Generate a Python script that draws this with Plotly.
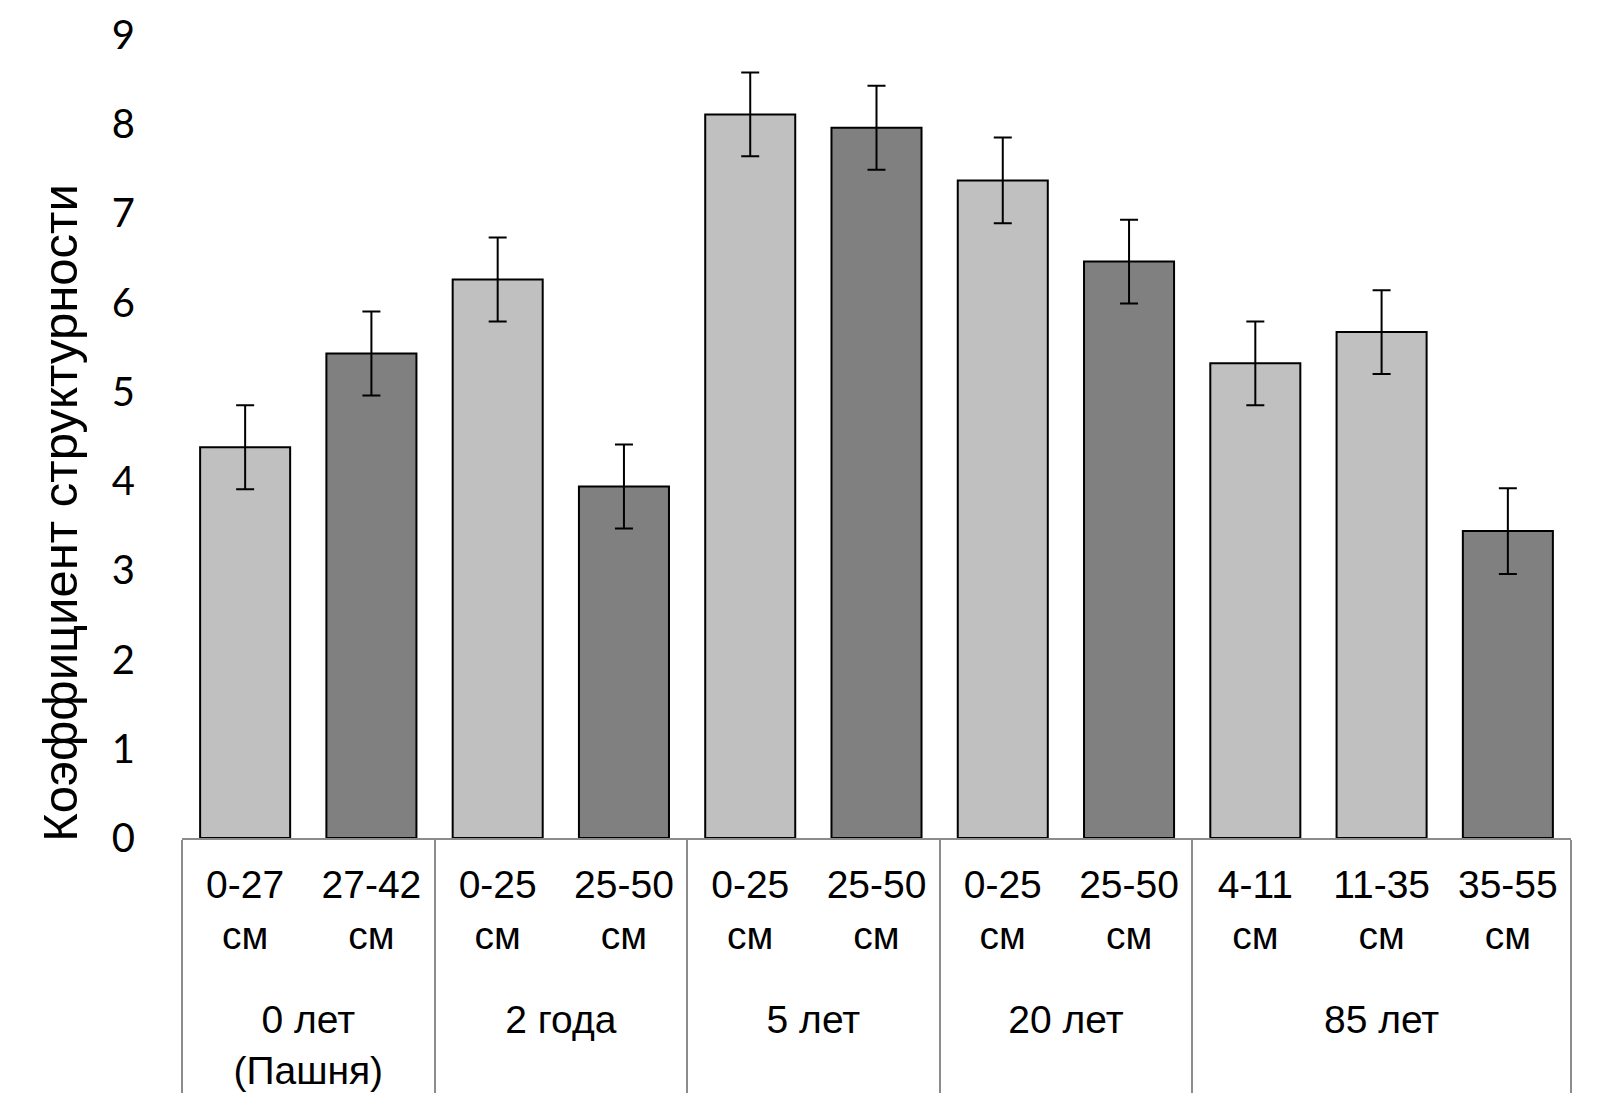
import plotly.graph_objects as go

# Coefficient of soil structure by depth layer and age of fallow
groups = ["<br>0 лет<br>(Пашня)", "<br>0 лет<br>(Пашня)",
          "<br>2 года", "<br>2 года",
          "<br>5 лет", "<br>5 лет",
          "<br>20 лет", "<br>20 лет",
          "<br>85 лет", "<br>85 лет", "<br>85 лет"]
layers = ["0-27<br>см", "27-42<br>см",
          "0-25<br>см", "25-50<br>см",
          "0-25<br>см", "25-50<br>см",
          "0-25<br>см", "25-50<br>см",
          "4-11<br>см", "11-35<br>см", "35-55<br>см"]
values = [4.38, 5.43, 6.26, 3.94, 8.11, 7.96, 7.37, 6.46, 5.32, 5.67, 3.44]
errors = [0.47, 0.47, 0.47, 0.47, 0.47, 0.47, 0.48, 0.47, 0.47, 0.47, 0.48]
upper_layer = [True, False, True, False, True, False, True, False, True, True, False]

LIGHT = "#C0C0C0"
DARK = "#808080"
TEXT_FONT = "Liberation Sans, Arial, sans-serif"

fig = go.Figure(
    go.Bar(
        x=[groups, layers],
        y=values,
        marker=dict(
            color=[LIGHT if up else DARK for up in upper_layer],
            line=dict(color="black", width=2),
        ),
        error_y=dict(type="data", array=errors, color="black",
                     thickness=2, width=9),
    )
)

fig.update_xaxes(
    type="multicategory",
    showline=True,
    linecolor="#8C8C8C",
    linewidth=2,
    showgrid=False,
    showdividers=True,
    dividercolor="#8C8C8C",
    dividerwidth=2,
    ticklabelstandoff=11,
    tickfont=dict(family=TEXT_FONT, size=39, color="black"),
)

# top label sits near the page edge, so don't let plotly hide it
fig.update_yaxes(
    range=[0, 9],
    dtick=1,
    showline=False,
    showgrid=False,
    zeroline=False,
    ticklabelstandoff=46,
    ticklabeloverflow="allow",
    tickfont=dict(family="Lato, Open Sans, sans-serif", size=40, color="black"),
)

# y title is placed a bit lower than the plot centre, as in the source
fig.add_annotation(
    text="Коэффициент структурности",
    textangle=-90,
    xref="paper", yref="paper",
    x=0, xshift=-122, y=0.405,
    xanchor="center", yanchor="middle",
    showarrow=False,
    font=dict(family=TEXT_FONT, size=49, color="black"),
)

fig.update_layout(
    width=1600,
    height=1111,
    margin=dict(l=174, r=37, t=27, b=281, autoexpand=False),
    bargap=0.287,
    plot_bgcolor="white",
    paper_bgcolor="white",
    showlegend=False,
)

fig.write_html("out.html")
